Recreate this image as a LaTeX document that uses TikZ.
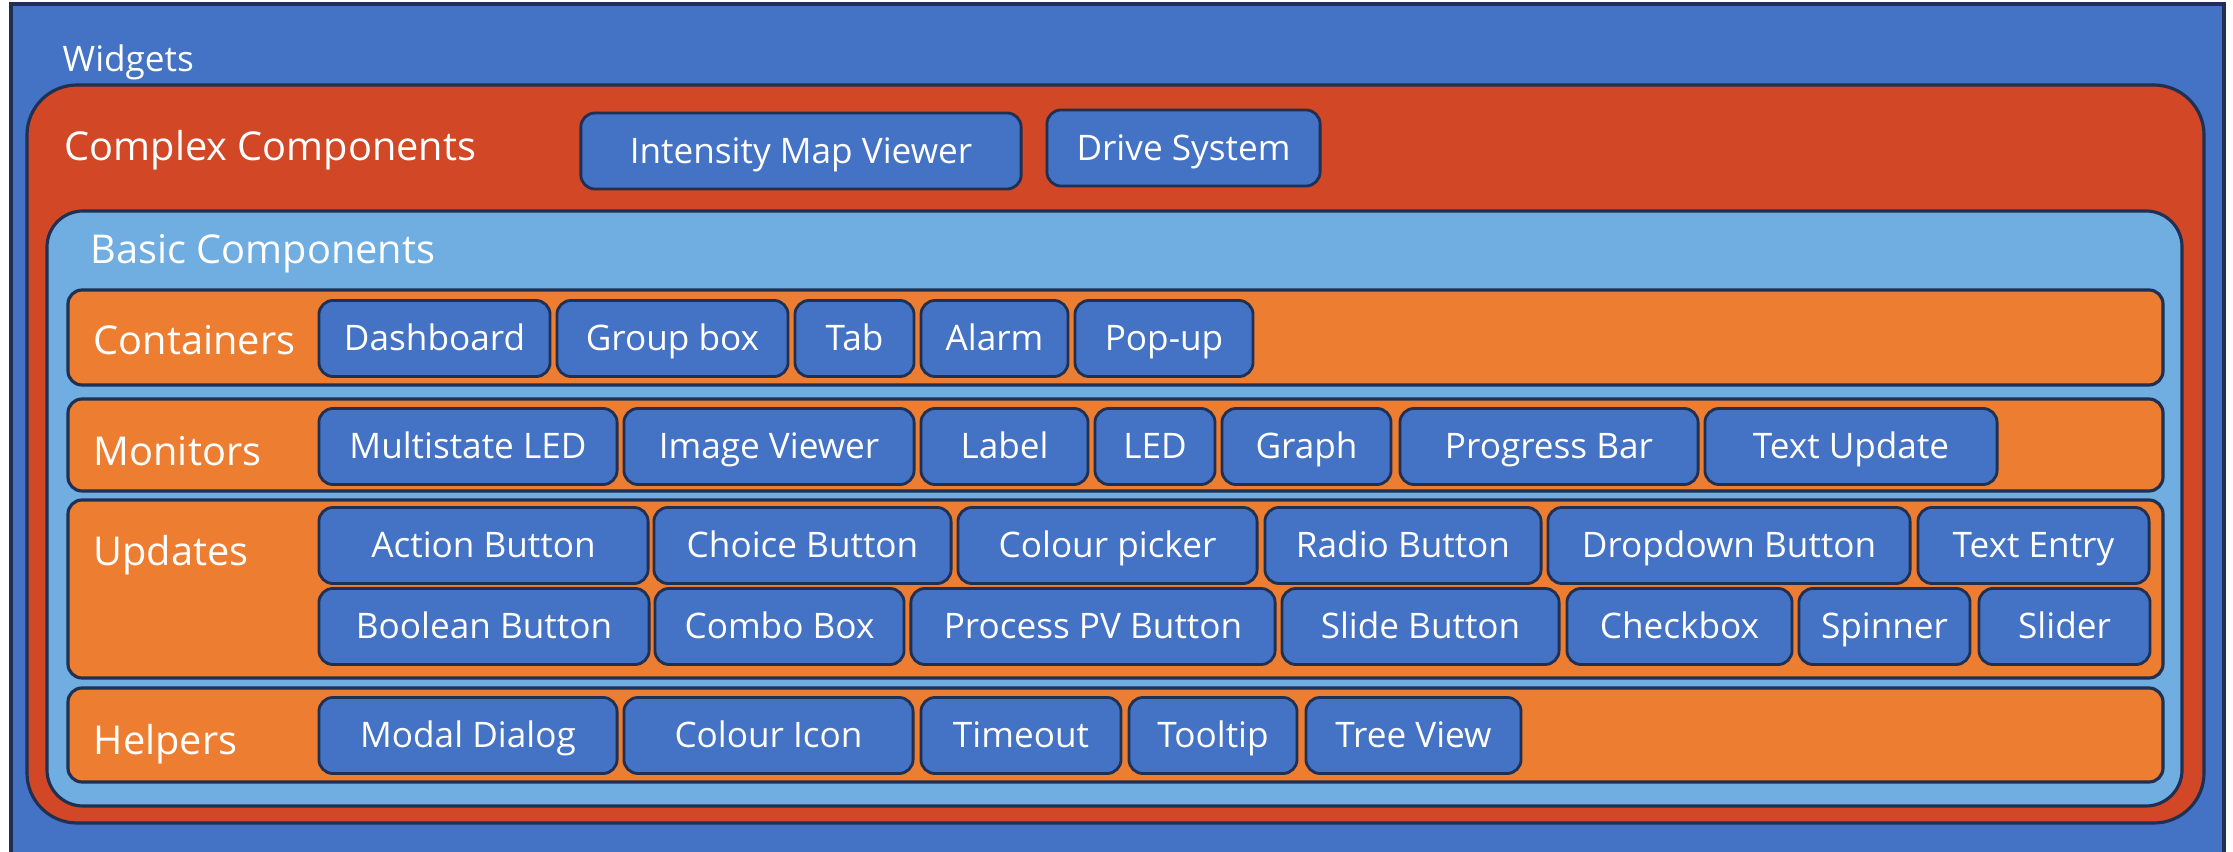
\documentclass[tikz,border=0pt]{standalone}
\usepackage{fontspec}
\setmainfont{Open Sans}
\usepackage{tikz}
\usetikzlibrary{positioning}

\definecolor{widgetblue}{RGB}{68, 114, 196}
\definecolor{complexred}{RGB}{210, 71, 38}
\definecolor{basicblue}{RGB}{112, 173, 224}
\definecolor{grouporange}{RGB}{237, 125, 49}
\definecolor{edgenavy}{RGB}{31, 48, 82}

\tikzset{
  frame/.style={draw=edgenavy, line width=0.9pt},
  btn/.style={draw=edgenavy, line width=0.8pt, fill=widgetblue, rounded corners=4pt,
    text=white, font=\fontsize{10}{12}\selectfont, minimum height=0.76cm, inner sep=0pt,
    text height=0.8em, text depth=0.1em},
  title/.style={anchor=west, text=white, inner sep=0pt, font=\fontsize{11.3}{13}\selectfont,
    text height=0.8em, text depth=0.1em},
}

\begin{document}
\begin{tikzpicture}[x=0.01cm, y=-0.01cm]
  \useasboundingbox (0,0) rectangle (2233,852);
  \clip (0,0) rectangle (2233,852);

  % outer frame: Widgets (runs past the bottom edge)
  \fill[white] (0,0) rectangle (2233,852);
  \draw[frame, fill=widgetblue] (11,4) rectangle (2224,870);
  \node[title, font=\fontsize{10}{12}\selectfont] (widgets) at (62,59) {Widgets};

  % Complex Components
  \draw[frame, fill=complexred, rounded corners=0.5cm] (27,85) rectangle (2204,823);
  \node[title] (complex) at (64,148) {Complex Components};
  \node[btn, minimum width=4.40cm] (intensity) at (801,151) {Intensity Map Viewer};
  \node[btn, minimum width=2.73cm] (drive) at (1183.5,148) {Drive System};

  % Basic Components
  \draw[frame, fill=basicblue, rounded corners=0.36cm] (47,211) rectangle (2182,806);
  \node[title] (basic) at (90,251) {Basic Components};

  % group rows
  \draw[frame, fill=grouporange, rounded corners=0.14cm] (68,290) rectangle (2163,385);
  \draw[frame, fill=grouporange, rounded corners=0.14cm] (68,399) rectangle (2163,491);
  \draw[frame, fill=grouporange, rounded corners=0.14cm] (68,500) rectangle (2163,678);
  \draw[frame, fill=grouporange, rounded corners=0.14cm] (68,688) rectangle (2163,782);

  % Containers
  \node[title] (containers) at (93,342) {Containers};
  \node[btn, minimum width=2.31cm] (dashboard) at (434.5,338.5) {Dashboard};
  \node[btn, minimum width=2.31cm] (groupbox) at (672.5,338.5) {Group box};
  \node[btn, minimum width=1.19cm] (tab) at (854.5,338.5) {Tab};
  \node[btn, minimum width=1.47cm] (alarm) at (994.5,338.5) {Alarm};
  \node[btn, minimum width=1.78cm] (popup) at (1164,338.5) {Pop-up};

  % Monitors
  \node[title] (monitors) at (93,453) {Monitors};
  \node[btn, minimum width=2.98cm] (multiled) at (468,446.5) {Multistate LED};
  \node[btn, minimum width=2.90cm] (imgviewer) at (769,446.5) {Image Viewer};
  \node[btn, minimum width=1.67cm] (label) at (1004.5,446.5) {Label};
  \node[btn, minimum width=1.20cm] (led) at (1155,446.5) {LED};
  \node[btn, minimum width=1.69cm] (graph) at (1306.5,446.5) {Graph};
  \node[btn, minimum width=2.98cm] (progress) at (1549,446.5) {Progress Bar};
  \node[btn, minimum width=2.92cm] (textupdate) at (1851,446.5) {Text Update};

  % Updates
  \node[title] (updates) at (93,553) {Updates};
  \node[btn, minimum width=3.29cm] (action) at (483.5,545.5) {Action Button};
  \node[btn, minimum width=2.97cm] (choice) at (802.5,545.5) {Choice Button};
  \node[btn, minimum width=2.99cm] (colourpick) at (1107.5,545.5) {Colour picker};
  \node[btn, minimum width=2.76cm] (radio) at (1403,545.5) {Radio Button};
  \node[btn, minimum width=3.62cm] (dropdown) at (1729,545.5) {Dropdown Button};
  \node[btn, minimum width=2.31cm] (textentry) at (2033.5,545.5) {Text Entry};
  \node[btn, minimum width=3.30cm] (boolean) at (484,626.5) {Boolean Button};
  \node[btn, minimum width=2.49cm] (combo) at (779.5,626.5) {Combo Box};
  \node[btn, minimum width=3.64cm] (processpv) at (1093,626.5) {Process PV Button};
  \node[btn, minimum width=2.77cm] (slide) at (1420.5,626.5) {Slide Button};
  \node[btn, minimum width=2.25cm] (checkbox) at (1679.5,626.5) {Checkbox};
  \node[btn, minimum width=1.71cm] (spinner) at (1884.5,626.5) {Spinner};
  \node[btn, minimum width=1.71cm] (slider) at (2064.5,626.5) {Slider};

  % Helpers
  \node[title] (helpers) at (93,742) {Helpers};
  \node[btn, minimum width=2.98cm] (modal) at (468,735.5) {Modal Dialog};
  \node[btn, minimum width=2.89cm] (colouricon) at (768.5,735.5) {Colour Icon};
  \node[btn, minimum width=2.00cm] (timeout) at (1021,735.5) {Timeout};
  \node[btn, minimum width=1.68cm] (tooltip) at (1213,735.5) {Tooltip};
  \node[btn, minimum width=2.15cm] (treeview) at (1413.5,735.5) {Tree View};
\end{tikzpicture}
\end{document}
